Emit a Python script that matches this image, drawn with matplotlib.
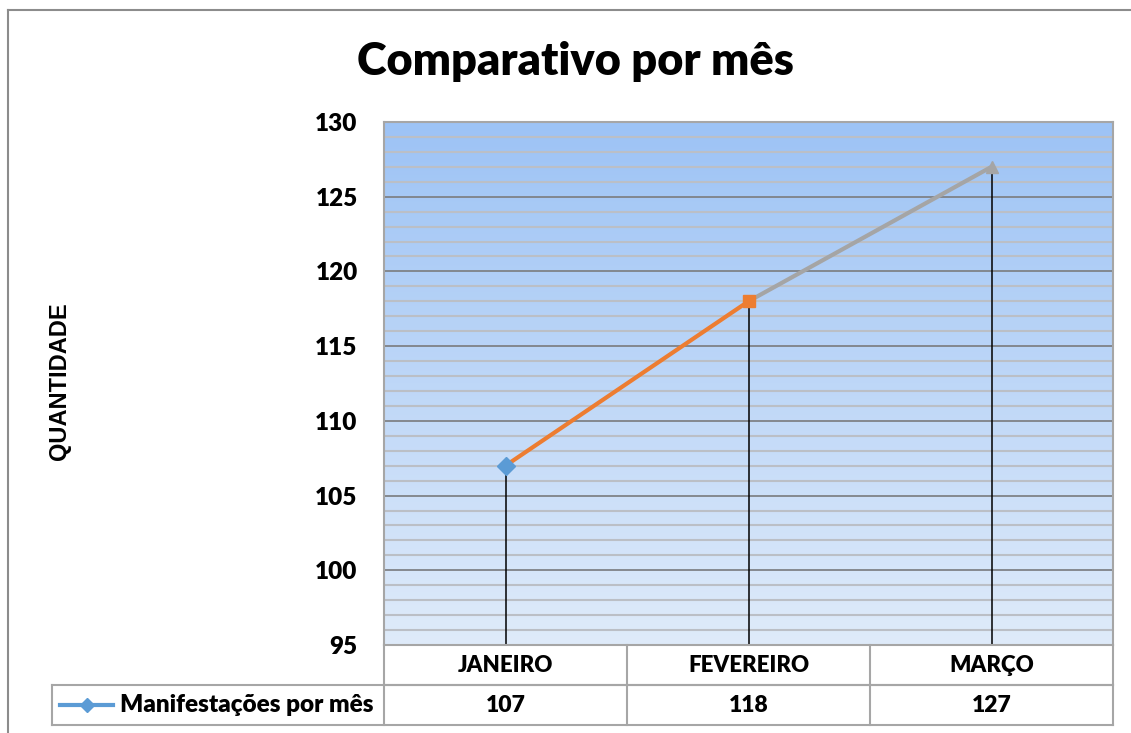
import numpy as np
import matplotlib.pyplot as plt
from matplotlib.lines import Line2D

#
# chart data
#
meses = ["JANEIRO", "FEVEREIRO", "MARÇO"]
valores = [107, 118, 127]
serie = "Manifestações por mês"
titulo = "Comparativo por mês"
ylabel = "QUANTIDADE"

# one colour per point (Excel "vary colours by point")
cores = ["#5B9BD5", "#ED7D31", "#A5A5A5"]
marcadores = ["D", "s", "^"]

W, H = 1131, 733
FONT = "Lato"
WT = "heavy"

fig = plt.figure(figsize=(W / 100, H / 100), dpi=100)

# plot area in pixels: x 384..1113, y 122..645
left, right, top, bottom = 384, 1113, 122, 645
ax = fig.add_axes([left / W, 1 - bottom / H, (right - left) / W, (bottom - top) / H])

x = np.arange(len(meses))
ax.set_xlim(-0.5, len(meses) - 0.5)
ax.set_ylim(95, 130)

# gradient background
grad = np.linspace(0, 1, 256).reshape(-1, 1)
top_c = np.array([157, 195, 245]) / 255
bot_c = np.array([223, 235, 250]) / 255
img = top_c * (1 - grad[..., None]) + bot_c * grad[..., None]
img = np.repeat(img, 2, axis=1)
ax.imshow(img, extent=(-0.5, len(meses) - 0.5, 95, 130), aspect="auto", zorder=0)

# grid lines
ax.set_yticks(np.arange(95, 131, 5))
ax.set_yticks(np.arange(95, 131, 1), minor=True)
ax.grid(which="minor", axis="y", color="#BBBFC6", lw=1.5, zorder=1)
ax.grid(which="major", axis="y", color="#7F8287", lw=1.3, zorder=1)
ax.tick_params(which="both", length=0)
ax.tick_params(axis="y", pad=19)
ax.set_xticks([])
for lbl in ax.get_yticklabels():
    lbl.set_fontfamily(FONT)
    lbl.set_fontweight(WT)
    lbl.set_fontsize(17.5)
for s in ax.spines.values():
    s.set_color("#A6A6A6")
    s.set_linewidth(1.5)

# drop lines
ax.vlines(x, 95, valores, color="black", lw=1.1, zorder=2)

# line segments coloured by the end point
for i in range(1, len(x)):
    ax.plot(x[i - 1:i + 1], valores[i - 1:i + 1], color=cores[i], lw=3, zorder=3,
            solid_capstyle="butt")
for i in range(len(x)):
    ax.plot(x[i], valores[i], marker=marcadores[i], color=cores[i], ms=9, zorder=4,
            linestyle="none")

# data table below the axes
tr = ax.get_xaxis_transform()
ppu = (bottom - top)
row1 = -40 / ppu
row2 = -80 / ppu
legx = (52 - left) / (right - left) * len(meses) - 0.5
gc = "#A6A6A6"
lkw = dict(color=gc, lw=1.5, transform=tr, clip_on=False)
ax.add_line(Line2D([-0.5, 2.5], [row1, row1], **lkw))
ax.add_line(Line2D([legx, 2.5], [row2, row2], **lkw))
ax.add_line(Line2D([legx, 2.5], [row1, row1], **lkw))
ax.add_line(Line2D([legx, legx], [row1, row2], **lkw))
for b in [-0.5, 0.5, 1.5, 2.5]:
    ax.add_line(Line2D([b, b], [0, row2], **lkw))
for i, m in enumerate(meses):
    ax.text(x[i], row1 / 2, m, transform=tr, ha="center", va="center",
            fontfamily=FONT, fontweight=WT, fontsize=16)
    ax.text(x[i], (row1 + row2) / 2, str(valores[i]), transform=tr, ha="center",
            va="center", fontfamily=FONT, fontweight=WT, fontsize=16.5)

# legend key in table
fig.add_artist(Line2D([60 / W, 113 / W], [1 - 705 / H, 1 - 705 / H], color=cores[0], lw=3,
                      transform=fig.transFigure))
fig.add_artist(Line2D([86.5 / W], [1 - 705 / H], color=cores[0], marker="D", ms=7,
                      transform=fig.transFigure))
fig.text(120 / W, 1 - 705 / H, serie, ha="left", va="center", fontfamily=FONT,
         fontweight=WT, fontsize=17.5)

# title and y label
fig.text(575 / W, 1 - 62 / H, titulo, ha="center", va="center", fontfamily=FONT,
         fontweight=WT, fontsize=32.5)
fig.text(60 / W, 1 - 381 / H, ylabel, ha="center", va="center", rotation=90,
         fontfamily="Liberation Sans", fontweight="bold", fontsize=17)

# chart area border (top and left only visible)
fig.add_artist(Line2D([8 / W, 8 / W], [0, 1 - 10 / H], color="#8C8C8C", lw=1.5,
                      transform=fig.transFigure))
fig.add_artist(Line2D([8 / W, 1], [1 - 10 / H, 1 - 10 / H], color="#8C8C8C", lw=1.5,
                      transform=fig.transFigure))

fig.savefig("out.png", dpi=100)
